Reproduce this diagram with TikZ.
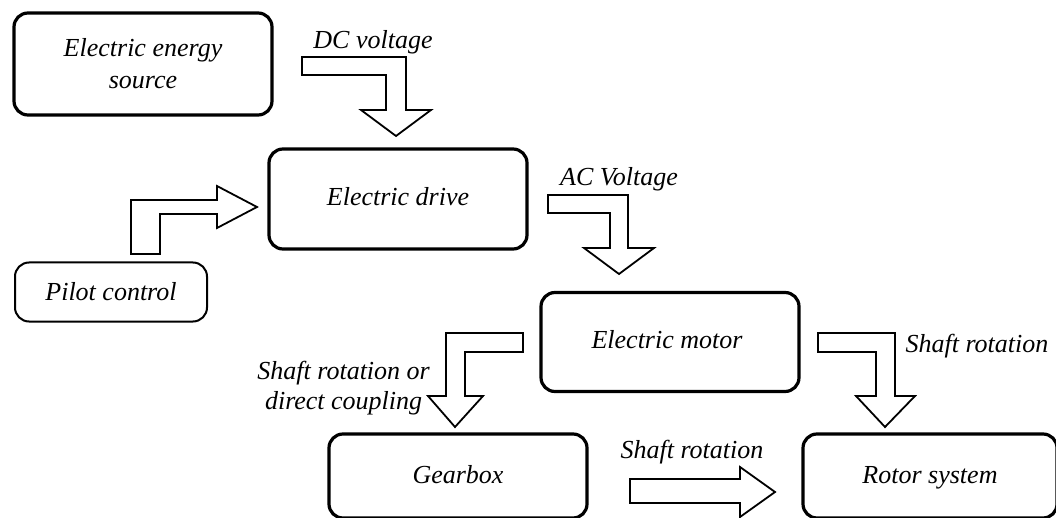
\documentclass[tikz,border=0pt]{standalone}
\usepackage{fontspec}
\setmainfont{Liberation Serif}
\begin{document}
\begin{tikzpicture}[x=1pt,y=-1pt,
  blk/.style={draw=black, line width=3.2pt, rounded corners=14pt, fill=white, inner sep=0pt, align=center, font=\fontsize{26}{32}\selectfont\itshape},
  thinblk/.style={blk, line width=2pt},
  barrow/.style={draw=black, line width=1.8pt, fill=white, line join=miter},
  lbl/.style={font=\fontsize{26}{30}\selectfont\itshape, inner sep=0pt, align=center}]
\useasboundingbox (0,0) rectangle (1056,518);
% boxes
\node[blk, minimum width=258pt, minimum height=102pt] (src) at (143,64) {Electric energy\\source};
\node[blk, minimum width=258pt, minimum height=100pt] (drive) at (398,199) {};
\node[lbl] at (398,197) {Electric drive};
\node[thinblk, minimum width=192pt, minimum height=59pt] (pilot) at (111,292) {Pilot control};
\node[blk, minimum width=258pt, minimum height=99pt] (motor) at (670,342) {};
\node[lbl] at (667,340) {Electric motor};
\node[blk, minimum width=258pt, minimum height=84pt] (gear) at (458,476) {};
\node[lbl] at (458,475) {Gearbox};
\node[blk, minimum width=254pt, minimum height=84pt] (rotor) at (930,476) {};
\node[lbl] at (930,478) {Rotor system};
% block arrows
\draw[barrow] (302,57) -- (406,57) -- (406,110) -- (431,110) -- (396,136) -- (361,110) -- (386,110) -- (386,75) -- (302,75) -- cycle;
\draw[barrow] (548,195) -- (628,195) -- (628,248) -- (654,248) -- (619,274) -- (584,248) -- (610,248) -- (610,213) -- (548,213) -- cycle;
\draw[barrow] (131,254) -- (131,200) -- (217,200) -- (217,186) -- (257,207) -- (217,228) -- (217,214) -- (160,214) -- (160,254) -- cycle;
\draw[barrow] (523,333) -- (446,333) -- (446,396) -- (428,396) -- (455,427) -- (483,396) -- (465,396) -- (465,352) -- (523,352) -- cycle;
\draw[barrow] (818,333) -- (895,333) -- (895,396) -- (915,396) -- (885,427) -- (856,396) -- (876,396) -- (876,352) -- (818,352) -- cycle;
\draw[barrow] (630,479) -- (740,479) -- (740,467) -- (775,492) -- (740,517) -- (740,503) -- (630,503) -- cycle;
% labels
\node[lbl] (ldc) at (373,42) {DC voltage};
\node[lbl] (lac) at (619,179) {AC Voltage};
\node[lbl, align=center, anchor=east] (lsr1) at (430,388) {Shaft rotation or\\direct coupling};
\node[lbl] (lsr2) at (977,346) {Shaft rotation};
\node[lbl] (lsr3) at (692,452) {Shaft rotation};
\end{tikzpicture}
\end{document}
